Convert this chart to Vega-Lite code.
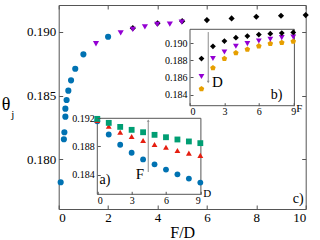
{
  "$schema": "https://vega.github.io/schema/vega-lite/v6.json",
  "width": 247,
  "height": 204,
  "autosize": "none",
  "padding": {"left": 58.7, "top": 5, "right": 14.3, "bottom": 31},
  "config": {
    "view": {"stroke": "#555555", "strokeWidth": 1},
    "font": "Liberation Serif",
    "axis": {"labelFont": "Liberation Serif", "titleFont": "Liberation Serif", "labelColor": "#000000", "titleColor": "#000000", "tickColor": "#555555", "domain": false, "grid": false, "titleFontWeight": "normal", "labelOverlap": false, "labelBound": false},
    "text": {"font": "Liberation Serif", "color": "#000000"}
  },
  "datasets": {
    "main": [
      {"x": 0.08, "y": 0.1782, "s": "c"},
      {"x": 0.21, "y": 0.18157, "s": "c"},
      {"x": 0.23, "y": 0.18212, "s": "c"},
      {"x": 0.27, "y": 0.18334, "s": "c"},
      {"x": 0.27, "y": 0.18397, "s": "c"},
      {"x": 0.32, "y": 0.18465, "s": "c"},
      {"x": 0.39, "y": 0.18538, "s": "c"},
      {"x": 0.5, "y": 0.18619, "s": "c"},
      {"x": 0.67, "y": 0.1871, "s": "c"},
      {"x": 1.0, "y": 0.18823, "s": "c"},
      {"x": 2.0, "y": 0.18961, "s": "c"},
      {"x": 3, "y": 0.19028, "s": "d"},
      {"x": 4, "y": 0.19066, "s": "d"},
      {"x": 5, "y": 0.19083, "s": "d"},
      {"x": 6, "y": 0.19092, "s": "d"},
      {"x": 7, "y": 0.19105, "s": "d"},
      {"x": 8, "y": 0.19118, "s": "d"},
      {"x": 9, "y": 0.19126, "s": "d"},
      {"x": 10, "y": 0.19131, "s": "d"},
      {"x": 1.51, "y": 0.18906, "s": "v"},
      {"x": 2.51, "y": 0.18992, "s": "v"},
      {"x": 3.0, "y": 0.19019, "s": "v"},
      {"x": 3.49, "y": 0.19039, "s": "v"},
      {"x": 3.99, "y": 0.19058, "s": "v"},
      {"x": 4.5, "y": 0.1906, "s": "v"},
      {"x": 4.98, "y": 0.19076, "s": "v"}
    ],
    "a": [
      {"x": 0, "y": 0.19158, "s": "c"},
      {"x": 1, "y": 0.1897, "s": "c"},
      {"x": 2, "y": 0.18824, "s": "c"},
      {"x": 3, "y": 0.18711, "s": "c"},
      {"x": 4, "y": 0.18616, "s": "c"},
      {"x": 5, "y": 0.18546, "s": "c"},
      {"x": 6, "y": 0.18471, "s": "c"},
      {"x": 7, "y": 0.18404, "s": "c"},
      {"x": 8, "y": 0.18343, "s": "c"},
      {"x": 9, "y": 0.18287, "s": "c"},
      {"x": 0, "y": 0.1917, "s": "u"},
      {"x": 1, "y": 0.19087, "s": "u"},
      {"x": 2, "y": 0.19002, "s": "u"},
      {"x": 3, "y": 0.18941, "s": "u"},
      {"x": 4, "y": 0.18885, "s": "u"},
      {"x": 5, "y": 0.18828, "s": "u"},
      {"x": 6, "y": 0.1879, "s": "u"},
      {"x": 7, "y": 0.18743, "s": "u"},
      {"x": 8, "y": 0.18705, "s": "u"},
      {"x": 9, "y": 0.18673, "s": "u"},
      {"x": 0, "y": 0.19192, "s": "s"},
      {"x": 1, "y": 0.19135, "s": "s"},
      {"x": 2, "y": 0.19078, "s": "s"},
      {"x": 3, "y": 0.19036, "s": "s"},
      {"x": 4, "y": 0.19002, "s": "s"},
      {"x": 5, "y": 0.18965, "s": "s"},
      {"x": 6, "y": 0.18931, "s": "s"},
      {"x": 7, "y": 0.18899, "s": "s"},
      {"x": 8, "y": 0.18871, "s": "s"},
      {"x": 9, "y": 0.18847, "s": "s"}
    ],
    "b": [
      {"x": 1, "y": 0.18465, "s": "p"},
      {"x": 2, "y": 0.18709, "s": "p"},
      {"x": 3, "y": 0.18819, "s": "p"},
      {"x": 4, "y": 0.18884, "s": "p"},
      {"x": 5, "y": 0.18927, "s": "p"},
      {"x": 6, "y": 0.18965, "s": "p"},
      {"x": 7, "y": 0.18993, "s": "p"},
      {"x": 8, "y": 0.19005, "s": "p"},
      {"x": 9, "y": 0.1902, "s": "p"},
      {"x": 1, "y": 0.18609, "s": "v"},
      {"x": 2, "y": 0.18819, "s": "v"},
      {"x": 3, "y": 0.18895, "s": "v"},
      {"x": 4, "y": 0.18962, "s": "v"},
      {"x": 5, "y": 0.18993, "s": "v"},
      {"x": 6, "y": 0.19023, "s": "v"},
      {"x": 7, "y": 0.19043, "s": "v"},
      {"x": 8, "y": 0.19063, "s": "v"},
      {"x": 9, "y": 0.1907, "s": "v"},
      {"x": 1, "y": 0.18819, "s": "d"},
      {"x": 2, "y": 0.18962, "s": "d"},
      {"x": 3, "y": 0.19023, "s": "d"},
      {"x": 4, "y": 0.19063, "s": "d"},
      {"x": 5, "y": 0.19081, "s": "d"},
      {"x": 6, "y": 0.19098, "s": "d"},
      {"x": 7, "y": 0.19109, "s": "d"},
      {"x": 8, "y": 0.19116, "s": "d"},
      {"x": 9, "y": 0.19124, "s": "d"}
    ]
  },
  "resolve": {"scale": {"x": "independent", "y": "independent"}, "axis": {"x": "independent", "y": "independent"}},
  "layer": [
    {
      "resolve": {"axis": {"x": "independent", "y": "independent"}},
      "layer": [
        {
          "data": {"name": "main"},
          "mark": {"type": "point", "filled": true, "opacity": 1, "size": 38},
          "encoding": {
            "x": {"field": "x", "type": "quantitative", "scale": {"domain": [0, 10], "nice": false, "zero": false},
              "axis": {"orient": "bottom", "values": [0, 2, 4, 6, 8, 10], "title": "F/D", "titleFontSize": 16, "titleY": 28, "titleBaseline": "alphabetic", "labelFontSize": 13, "tickSize": -4, "labelPadding": 6, "zindex": 0}},
            "y": {"field": "y", "type": "quantitative", "scale": {"domain": [0.1761, 0.1921], "nice": false, "zero": false},
              "axis": {"orient": "left", "values": [0.18, 0.185, 0.19], "format": ".3f", "title": null, "labelFontSize": 13, "tickSize": -4, "labelPadding": 7, "zindex": 0}},
            "color": {"field": "s", "type": "nominal", "legend": null, "scale": {"domain": ["c", "v", "d", "p", "s", "u"], "range": ["#0072B2", "#9400D3", "#000000", "#E69F00", "#009E73", "#E51E10"]}},
            "shape": {"field": "s", "type": "nominal", "legend": null, "scale": {"domain": ["c", "v", "d", "p", "s", "u"], "range": ["circle", "triangle-down", "diamond", "M0,-1L0.951,-0.309L0.588,0.809L-0.588,0.809L-0.951,-0.309Z", "square", "triangle-up"]}}
          }
        },
        {
          "data": {"values": [{}]},
          "mark": {"type": "point", "opacity": 0},
          "encoding": {
            "x": {"datum": 5, "type": "quantitative", "axis": {"orient": "top", "values": [0, 2, 4, 6, 8, 10], "labels": false, "title": null, "tickSize": -4}},
            "y": {"datum": 0.18, "type": "quantitative", "axis": {"orient": "right", "values": [0.18, 0.185, 0.19], "labels": false, "title": null, "tickSize": -4}}
          }
        },
        {
          "data": {"values": [{}]},
          "mark": {"type": "text", "text": "θ", "fontSize": 18, "align": "center", "baseline": "middle"},
          "encoding": {"x": {"datum": -2.13, "type": "quantitative", "axis": null}, "y": {"datum": 0.18426, "type": "quantitative", "axis": null}}
        },
        {
          "data": {"values": [{}]},
          "mark": {"type": "text", "text": "j", "fontSize": 11, "align": "center", "baseline": "middle"},
          "encoding": {"x": {"datum": -1.86, "type": "quantitative", "axis": null}, "y": {"datum": 0.18345, "type": "quantitative", "axis": null}}
        },
        {
          "data": {"values": [{}]},
          "mark": {"type": "text", "text": "c)", "fontSize": 14, "align": "center", "baseline": "middle"},
          "encoding": {"x": {"datum": 9.7, "type": "quantitative", "axis": null}, "y": {"datum": 0.17689, "type": "quantitative", "axis": null}}
        }
      ]
    },
    {
      "layer": [
        {
          "data": {"values": [{}]},
          "mark": {"type": "rect", "fill": "#ffffff", "stroke": "#555555", "strokeWidth": 1},
          "encoding": {
            "x": {"datum": 0, "type": "quantitative", "scale": {"domain": [0, 9.05], "range": [38.6, 142.2], "nice": false, "zero": false},
              "axis": {"orient": "bottom", "offset": -14.7, "values": [0, 3, 6, 9], "title": null, "labelFontSize": 10, "tickSize": -3, "labelPadding": 4, "zindex": 1}},
            "x2": {"datum": 9.05},
            "y": {"datum": 0.1812, "type": "quantitative", "scale": {"domain": [0.1812, 0.192], "range": [189.3, 113.3], "nice": false, "zero": false},
              "axis": {"orient": "left", "offset": -38.6, "values": [0.184, 0.188, 0.192], "format": ".3f", "title": null, "labelFontSize": 10, "tickSize": -3, "labelPadding": 6, "zindex": 1}},
            "y2": {"datum": 0.192}
          }
        },
        {
          "data": {"name": "a"},
          "mark": {"type": "point", "filled": true, "opacity": 1, "size": 34},
          "encoding": {
            "x": {"field": "x", "type": "quantitative"},
            "y": {"field": "y", "type": "quantitative"},
            "color": {"field": "s", "type": "nominal", "legend": null},
            "shape": {"field": "s", "type": "nominal", "legend": null}
          }
        },
        {
          "data": {"values": [{}]},
          "mark": {"type": "rule", "color": "#8c8c8c", "strokeWidth": 1},
          "encoding": {"x": {"datum": 4.45, "type": "quantitative"}, "y": {"datum": 0.18437, "type": "quantitative"}, "y2": {"datum": 0.19167}}
        },
        {
          "data": {"values": [{}]},
          "mark": {"type": "point", "shape": "triangle-up", "filled": true, "color": "#8c8c8c", "size": 8, "opacity": 1},
          "encoding": {"x": {"datum": 4.45, "type": "quantitative"}, "y": {"datum": 0.19167, "type": "quantitative"}}
        },
        {
          "data": {"values": [{}]},
          "mark": {"type": "text", "text": "F", "fontSize": 15, "align": "center", "baseline": "middle"},
          "encoding": {"x": {"datum": 3.73, "type": "quantitative"}, "y": {"datum": 0.18414, "type": "quantitative"}}
        },
        {
          "data": {"values": [{}]},
          "mark": {"type": "text", "text": "a)", "fontSize": 14, "align": "center", "baseline": "middle"},
          "encoding": {"x": {"datum": 0.67, "type": "quantitative"}, "y": {"datum": 0.18319, "type": "quantitative"}}
        },
        {
          "data": {"values": [{}]},
          "mark": {"type": "text", "text": "D", "fontSize": 11, "align": "center", "baseline": "middle"},
          "encoding": {"x": {"datum": 9.61, "type": "quantitative"}, "y": {"datum": 0.18122, "type": "quantitative"}}
        }
      ]
    },
    {
      "layer": [
        {
          "data": {"values": [{}]},
          "mark": {"type": "rect", "fill": "#ffffff", "stroke": "#555555", "strokeWidth": 1},
          "encoding": {
            "x": {"datum": 0, "type": "quantitative", "scale": {"domain": [0, 9.1], "range": [131.3, 235.7], "nice": false, "zero": false},
              "axis": {"orient": "bottom", "offset": -103.3, "values": [0, 3, 6, 9], "title": null, "labelFontSize": 10, "tickSize": -3, "labelPadding": 4, "zindex": 1}},
            "x2": {"datum": 9.1},
            "y": {"datum": 0.1827, "type": "quantitative", "scale": {"domain": [0.1827, 0.1916], "range": [100.7, 24.3], "nice": false, "zero": false},
              "axis": {"orient": "left", "offset": -131.3, "values": [0.184, 0.186, 0.188, 0.19], "format": ".3f", "title": null, "labelFontSize": 10, "tickSize": -3, "labelPadding": 6, "zindex": 1}},
            "y2": {"datum": 0.1916}
          }
        },
        {
          "data": {"name": "b"},
          "mark": {"type": "point", "filled": true, "opacity": 1, "size": 34},
          "encoding": {
            "x": {"field": "x", "type": "quantitative"},
            "y": {"field": "y", "type": "quantitative"},
            "color": {"field": "s", "type": "nominal", "legend": null},
            "shape": {"field": "s", "type": "nominal", "legend": null}
          }
        },
        {
          "data": {"values": [{}]},
          "mark": {"type": "rule", "color": "#8c8c8c", "strokeWidth": 1},
          "encoding": {"x": {"datum": 1.59, "type": "quantitative"}, "y": {"datum": 0.18547, "type": "quantitative"}, "y2": {"datum": 0.19128}}
        },
        {
          "data": {"values": [{}]},
          "mark": {"type": "point", "shape": "triangle-down", "filled": true, "color": "#8c8c8c", "size": 8, "opacity": 1},
          "encoding": {"x": {"datum": 1.59, "type": "quantitative"}, "y": {"datum": 0.18547, "type": "quantitative"}}
        },
        {
          "data": {"values": [{}]},
          "mark": {"type": "text", "text": "D", "fontSize": 15, "align": "center", "baseline": "middle"},
          "encoding": {"x": {"datum": 2.38, "type": "quantitative"}, "y": {"datum": 0.18547, "type": "quantitative"}}
        },
        {
          "data": {"values": [{}]},
          "mark": {"type": "text", "text": "b)", "fontSize": 14, "align": "center", "baseline": "middle"},
          "encoding": {"x": {"datum": 7.55, "type": "quantitative"}, "y": {"datum": 0.18392, "type": "quantitative"}}
        },
        {
          "data": {"values": [{}]},
          "mark": {"type": "text", "text": "F", "fontSize": 11, "align": "center", "baseline": "middle"},
          "encoding": {"x": {"datum": 9.52, "type": "quantitative"}, "y": {"datum": 0.18229, "type": "quantitative"}}
        }
      ]
    }
  ]
}
